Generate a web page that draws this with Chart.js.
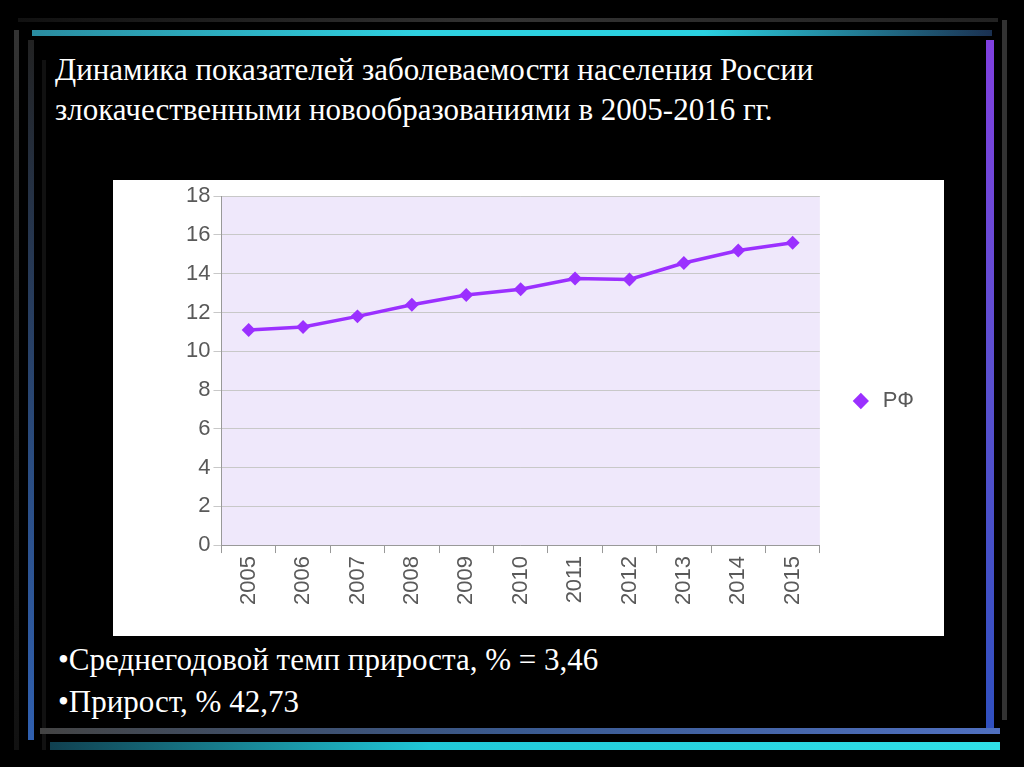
<!DOCTYPE html>
<html><head><meta charset="utf-8">
<script src="https://cdn.jsdelivr.net/npm/chart.js@4"></script>
<style>
body{margin:0;width:1024px;height:767px;background:#000;position:relative;overflow:hidden;font-family:"Liberation Serif",serif;color:#fff}
.d{position:absolute}
#panel{position:absolute;left:113px;top:180px;width:831px;height:456px;background:#fff}
.t{position:absolute;left:55px;font-size:31px;line-height:40px}
</style></head><body>
<div class="d" style="left:18px;top:18px;width:980px;height:4px;background:linear-gradient(90deg,#111,#333 50%,#222)"></div>
<div class="d" style="left:32px;top:30px;width:960px;height:6px;background:linear-gradient(90deg,#2a8ca0,#2fd0e0 40%,#2ad0e0 70%,#1a3050)"></div>
<div class="d" style="left:14px;top:30px;width:5px;height:720px;background:linear-gradient(#333,#111)"></div>
<div class="d" style="left:28px;top:40px;width:6px;height:700px;background:linear-gradient(#222,#2a4c80 60%,#3060b0)"></div>
<div class="d" style="left:42px;top:60px;width:4px;height:690px;background:#111"></div>
<div class="d" style="left:986px;top:40px;width:8px;height:690px;background:linear-gradient(#8040e0,#5a50d0 50%,#3050c0)"></div>
<div class="d" style="left:1002px;top:20px;width:5px;height:700px;background:#333"></div>
<div class="d" style="left:40px;top:728px;width:960px;height:6px;background:linear-gradient(90deg,#444,#3a5a90 50%,#5070c0)"></div>
<div class="d" style="left:50px;top:742px;width:950px;height:8px;background:linear-gradient(90deg,#104050,#20c8d8 40%,#30e0e8)"></div>
<div class="t" style="top:50px">Динамика показателей заболеваемости населения России<br>злокачественными новообразованиями в 2005-2016 гг.</div>
<div class="t" style="top:640px;left:58px">•Среднегодовой темп прироста, % = 3,46</div>
<div class="t" style="top:682px;left:58px">•Прирост, % 42,73</div>
<div id="panel"><canvas id="c" width="831" height="456"></canvas></div>
<script>
const years=["2005","2006","2007","2008","2009","2010","2011","2012","2013","2014","2015"];
const rf=[11.1,11.25,11.8,12.4,12.9,13.2,13.75,13.7,14.55,15.2,15.6];
const seriesName="РФ";
const bg={id:'bg',beforeDraw(ch){const a=ch.chartArea,x=ch.ctx;x.save();x.fillStyle='#efe8fb';x.fillRect(a.left,a.top,a.right-a.left,a.bottom-a.top);x.restore();}};
const f={family:'Liberation Sans',size:22};
new Chart(document.getElementById('c'),{type:'line',
data:{labels:years,datasets:[{label:seriesName,data:rf,borderColor:'#9b30ff',backgroundColor:'#9b30ff',borderWidth:3.5,pointStyle:'rectRot',pointRadius:4.5,tension:0}]},
options:{responsive:false,animation:false,
layout:{padding:{left:70,top:14,right:20,bottom:28}},
plugins:{legend:{position:'right',labels:{color:'#595959',font:f,usePointStyle:true,pointStyle:'rectRot',boxHeight:8,padding:30}},tooltip:{enabled:false}},
scales:{y:{min:0,max:18,ticks:{stepSize:2,color:'#595959',font:f},grid:{color:'#c8c8c8',tickLength:8},border:{color:'#999'}},
x:{offset:true,ticks:{minRotation:90,maxRotation:90,color:'#595959',font:f},grid:{offset:true,drawOnChartArea:false,tickLength:8,color:'#999'},border:{color:'#999'}}}}
,plugins:[bg]});
</script></body></html>
